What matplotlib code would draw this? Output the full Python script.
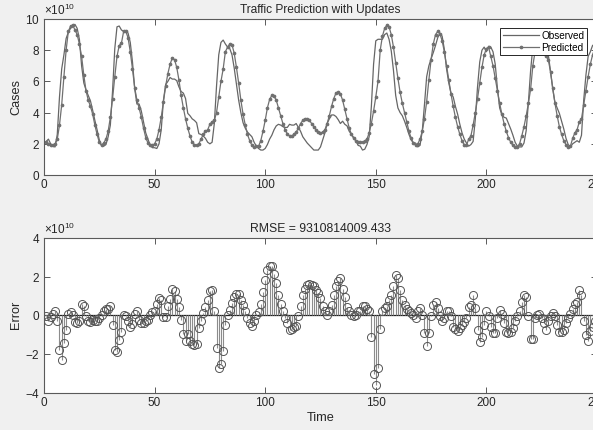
import numpy as np
import matplotlib
matplotlib.use("Agg")
import matplotlib.pyplot as plt
from matplotlib.ticker import ScalarFormatter

# values in units of 1e10
SCALE = 1e10

predicted = [
    2.1, 2.0, 1.9, 1.9, 2.0, 2.3, 3.2, 4.5, 6.3, 8.0,
    9.2, 9.55, 9.6, 9.3, 9.0, 8.4, 7.6, 6.4, 5.4, 4.8,
    4.4, 3.9, 3.2, 2.6, 2.1, 1.9, 2.05, 2.3, 2.8, 3.7,
    4.9, 6.3, 7.6, 8.3, 8.45, 9.2, 9.2, 8.8, 7.9, 6.8,
    5.6, 4.8, 4.3, 3.7, 3.0, 2.4, 2.05, 1.9, 1.9, 2.0,
    2.3, 2.9, 3.7, 4.7, 5.7, 6.5, 7.1, 7.5, 7.4, 6.9,
    6.1, 5.1, 4.3, 3.6, 3.0, 2.5, 2.1, 1.95, 1.9, 2.0,
    2.3, 2.6, 2.8, 2.9, 3.25, 3.4, 3.5, 4.0, 5.0, 6.0,
    6.8, 7.9, 8.2, 8.4, 8.35, 7.8, 6.9, 5.9, 4.8, 3.9,
    3.2, 2.6, 2.2, 1.9, 1.8, 1.85, 1.85, 2.2, 2.8, 3.5,
    4.3, 4.85, 5.1, 5.05, 4.8, 4.3, 3.8, 3.3, 2.9, 2.65,
    2.5, 2.5, 2.6, 2.75, 3.0, 3.3, 3.5, 3.6, 3.6, 3.5,
    3.3, 3.1, 2.9, 2.75, 2.7, 2.75, 2.9, 3.3, 3.8, 4.4,
    4.9, 5.25, 5.3, 5.2, 4.8, 4.2, 3.6, 3.0, 2.6, 2.35,
    2.2, 2.1, 2.1, 2.1, 2.15, 2.3, 2.7, 3.3, 4.1, 5.0,
    6.0, 8.0, 8.9, 9.4, 9.6, 9.5, 9.0, 8.2, 7.2, 6.2,
    5.3, 4.6, 4.0, 3.4, 2.8, 2.35, 2.05, 1.9, 2.0, 2.3,
    2.8, 3.6, 4.7, 6.1, 7.4, 8.4, 9.0, 9.2, 9.05, 8.6,
    7.9, 7.0, 6.1, 5.2, 4.4, 3.7, 3.1, 2.6, 2.2, 1.95,
    1.9, 2.3, 2.5, 3.2, 4.0, 4.9, 5.9, 6.9, 7.7, 8.1,
    8.2, 7.6, 7.0, 6.2, 5.4, 4.6, 3.9, 3.3, 2.8, 2.4,
    2.1, 1.9, 1.8, 1.8, 2.0, 2.5, 3.1, 3.8, 4.6, 5.5,
    7.0, 7.9, 8.2, 8.35, 8.3, 8.0, 7.6, 7.4, 6.6, 5.6,
    4.6, 3.8, 3.1, 2.6, 2.2, 1.95, 1.8, 1.85, 2.35, 2.7,
    2.9, 3.4, 3.6, 4.5, 5.4, 6.3, 7.1, 7.7, 8.1, 8.3,
]

observed = [
    2.15, 2.3, 2.0, 1.85, 1.8, 2.6, 5.0, 6.8, 7.7, 8.75,
    9.15, 9.4, 9.6, 9.65, 9.4, 8.7, 7.0, 5.9, 5.45, 5.1,
    4.75, 4.15, 3.5, 2.9, 2.25, 1.9, 1.85, 1.95, 2.45, 3.2,
    5.4, 8.1, 9.5, 9.55, 9.3, 9.2, 9.25, 9.1, 8.5, 7.25,
    5.55, 4.55, 4.55, 4.1, 3.4, 2.7, 2.3, 1.9, 1.75, 1.75,
    1.7, 2.0, 2.9, 4.8, 5.8, 6.0, 6.25, 6.15, 6.15, 6.05,
    5.65, 5.35, 5.25, 4.9, 3.95, 3.8, 3.6, 3.5, 3.35, 2.65,
    2.6, 2.5, 2.35, 2.1, 2.0, 2.1, 3.3, 5.7, 7.7, 8.5,
    8.65, 8.4, 8.2, 8.1, 7.7, 6.85, 5.8, 4.8, 4.0, 3.35,
    3.0, 2.75, 2.6, 2.45, 2.1, 1.85, 1.7, 1.6, 1.6, 1.7,
    1.95, 2.3, 2.55, 2.9, 3.15, 3.25, 3.2, 3.1, 3.05, 3.05,
    3.25, 3.2, 3.2, 3.3, 3.05, 2.8, 2.45, 2.25, 2.05, 1.9,
    1.75, 1.6, 1.6, 1.6, 1.8, 2.25, 2.7, 3.3, 3.6, 3.85,
    3.85, 3.75, 3.55, 3.3, 3.45, 3.25, 3.15, 2.8, 2.6, 2.4,
    2.2, 1.9, 1.85, 1.6, 1.65, 1.95, 2.45, 4.4, 7.1, 8.6,
    8.7, 8.7, 8.7, 9.0, 9.1, 8.7, 7.95, 6.7, 5.1, 4.3,
    4.0, 3.8, 3.45, 3.05, 2.6, 2.25, 2.05, 2.05, 1.8, 1.9,
    2.8, 4.5, 6.3, 7.0, 7.45, 7.85, 8.3, 8.8, 9.1, 8.9,
    8.05, 6.8, 5.9, 5.25, 5.0, 4.4, 3.9, 3.25, 2.7, 2.3,
    2.05, 1.85, 1.95, 2.15, 3.6, 5.65, 7.25, 8.0, 8.2, 7.9,
    8.25, 8.2, 7.9, 7.1, 5.55, 4.3, 3.85, 3.7, 3.65, 3.3,
    2.95, 2.55, 2.1, 1.85, 1.8, 1.8, 2.05, 2.85, 4.65, 6.7,
    8.2, 8.05, 8.2, 8.3, 8.45, 8.4, 8.35, 7.7, 6.65, 5.5,
    4.65, 4.3, 3.95, 3.45, 2.95, 2.35, 1.95, 1.8, 2.0, 2.1,
    2.2, 2.1, 2.55, 4.8, 6.4, 7.6, 7.9, 8.3, 8.4, 8.4,
]

error = [
    -0.05, -0.3, -0.1, 0.05, 0.2, -0.3, -1.8, -2.3, -1.4, -0.75,
    0.05, 0.15, 0.0, -0.35, -0.4, -0.3, 0.6, 0.5, -0.05, -0.3,
    -0.35, -0.25, -0.3, -0.3, -0.15, 0.0, 0.2, 0.35, 0.35, 0.5,
    -0.5, -1.8, -1.9, -1.25, -0.85, 0.0, -0.05, -0.3, -0.6, -0.45,
    0.05, 0.25, -0.25, -0.4, -0.4, -0.3, -0.25, 0.0, 0.15, 0.25,
    0.6, 0.9, 0.8, -0.1, -0.1, 0.5, 0.85, 1.35, 1.25, 0.85,
    0.45, -0.25, -0.95, -1.3, -0.95, -1.3, -1.5, -1.55, -1.45, -0.65,
    -0.3, 0.1, 0.45, 0.8, 1.25, 1.3, 0.2, -1.7, -2.7, -2.5,
    -1.85, -0.5, 0.0, 0.3, 0.65, 0.95, 1.1, 1.1, 0.8, 0.55,
    0.2, -0.15, -0.4, -0.55, -0.3, 0.0, 0.15, 0.6, 1.2, 1.8,
    2.35, 2.55, 2.55, 2.15, 1.65, 1.05, 0.6, 0.2, -0.15, -0.4,
    -0.75, -0.7, -0.6, -0.55, -0.05, 0.5, 1.05, 1.35, 1.55, 1.6,
    1.55, 1.5, 1.3, 1.15, 0.9, 0.5, 0.2, 0.0, 0.2, 0.55,
    1.05, 1.5, 1.75, 1.9, 1.35, 0.95, 0.45, 0.2, 0.0, -0.05,
    0.0, 0.2, 0.25, 0.5, 0.5, 0.35, 0.25, -1.1, -3.0, -3.6,
    -2.7, -0.7, 0.2, 0.4, 0.5, 0.8, 1.05, 1.5, 2.1, 1.9,
    1.3, 0.8, 0.55, 0.35, 0.2, 0.1, 0.0, -0.15, 0.2, 0.4,
    0.0, -0.9, -1.6, -0.9, -0.05, 0.55, 0.7, 0.4, -0.05, -0.3,
    -0.15, 0.2, 0.2, -0.05, -0.6, -0.7, -0.8, -0.65, -0.5, -0.35,
    -0.15, 0.45, 0.55, 1.05, 0.4, -0.75, -1.35, -1.1, -0.5, 0.2,
    -0.05, -0.6, -0.9, -0.9, -0.15, 0.3, 0.05, -0.4, -0.85, -0.9,
    -0.85, -0.65, -0.3, -0.05, 0.2, 0.7, 1.05, 0.95, -0.05, -1.2,
    -1.2, -0.15, 0.0, 0.05, -0.15, -0.4, -0.75, -0.3, -0.05, 0.1,
    -0.05, -0.5, -0.85, -0.85, -0.75, -0.4, -0.15, 0.05, 0.35, 0.6,
    0.7, 1.3, 1.05, -0.3, -1.0, -1.3, -0.8, -0.6, -0.3, -0.1,
]

rmse_text = "RMSE = 9310814009.433"
t = np.arange(1, len(predicted) + 1)

plt.rcParams['font.family'] = ['Liberation Sans', 'DejaVu Sans']
plt.rcParams['font.size'] = 8.5
plt.rcParams['mathtext.fontset'] = 'custom'
plt.rcParams['mathtext.rm'] = 'Liberation Sans'

bg = '#f0f0f0'
axcol = '#5a5a5a'
txtcol = '#262626'

fig = plt.figure(figsize=(5.93, 4.30), dpi=100, facecolor=bg)
ax1 = fig.add_axes([0.0742, 0.593, 0.9325, 0.3628])
ax2 = fig.add_axes([0.0742, 0.086, 0.9325, 0.3612])


def matlab_style(ax):
    for s in ax.spines.values():
        s.set_color(axcol)
        s.set_linewidth(0.8)
    ax.tick_params(direction='in', length=4, width=0.7, color=axcol,
                   labelcolor=txtcol, labelsize=8.5, top=True, right=True, pad=3)
    # fixed x10^10 exponent like matlab
    fmt = ScalarFormatter(useMathText=True)
    fmt.set_powerlimits((10, 10))
    ax.yaxis.set_major_formatter(fmt)
    ax.yaxis.get_offset_text().set_fontsize(8.5)
    ax.yaxis.get_offset_text().set_color(txtcol)
    ax.set_xlim(0, 250)
    ax.set_xticks([0, 50, 100, 150, 200, 250])


# top panel
obs_arr = np.array(observed) * SCALE
pred_arr = np.array(predicted) * SCALE
ax1.plot(t, obs_arr, color='#666666', lw=0.9, label='Observed')
ax1.plot(t, pred_arr, color='#707070', lw=0.9, marker='.', markersize=3.3,
         label='Predicted')
matlab_style(ax1)
ax1.set_ylim(0, 10 * SCALE)
ax1.set_yticks(np.arange(0, 11, 2) * SCALE)
ax1.set_title('Traffic Prediction with Updates', fontsize=8.6, color=txtcol, pad=4)
ax1.set_ylabel('Cases', fontsize=9.2, color=txtcol, labelpad=2)
leg = ax1.legend(loc='upper right', bbox_to_anchor=(0.982, 0.942), borderaxespad=0,
                 fontsize=7.2, handlelength=3.6, handletextpad=0.3, labelspacing=0.2,
                 borderpad=0.25, fancybox=False, framealpha=1)
leg.get_frame().set_edgecolor('#262626')
leg.get_frame().set_linewidth(0.7)

# bottom panel
err_arr = np.array(error) * SCALE
markerline, stemlines, baseline = ax2.stem(t, err_arr)
stemlines.set_color('#8c8c8c')
stemlines.set_linewidth(0.8)
markerline.set_marker('o')
markerline.set_markersize(5.8)
markerline.set_markerfacecolor('none')
markerline.set_markeredgecolor('#555555')
markerline.set_markeredgewidth(0.7)
baseline.set_visible(False)
ax2.axhline(0, color='#202020', lw=0.9, zorder=1)
matlab_style(ax2)
ax2.set_ylim(-4 * SCALE, 4 * SCALE)
ax2.set_yticks(np.arange(-4, 5, 2) * SCALE)
ax2.set_title(rmse_text, fontsize=8.8, color=txtcol, pad=4)
ax2.set_ylabel('Error', fontsize=9.2, color=txtcol, labelpad=2)
ax2.set_xlabel('Time', fontsize=9.2, color=txtcol, labelpad=2)

fig.savefig('out.png', dpi=100, facecolor=bg)
